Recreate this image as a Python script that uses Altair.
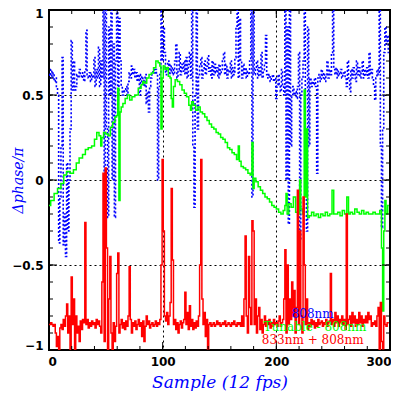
import altair as alt
import pandas as pd

# ---------------- data ----------------
blue_x = list(range(0, 300))
blue_y = [0.62, 0.6, 0.65, 0.6, 0.63, 0.58, 0.6, 0.55, 0.5, -0.37,
          -0.1, 0.2, 0.72, -0.38, -0.2, -0.45, 0.1, -0.3, 0.0, 0.3,
          0.82, 0.53, 0.7, 0.53, 0.55, 0.62, 0.6, 0.65, 0.62, 0.6,
          0.63, 0.58, 0.65, 0.88, 0.62, 0.6, 0.63, 0.58, 0.62, 0.6,
          0.72, 0.55, 0.65, 0.6, 0.78, 0.55, 0.7, 0.6, 1.0, -0.1,
          1.0, 0.3, -0.22, 0.9, 0.5, 1.0, 0.0, 0.8, -0.22, 0.7,
          1.0, 0.5, 0.95, 0.7, 0.55, 0.5, 0.53, 0.52, 0.55, 0.5,
          0.58, 0.63, 0.6, 0.67, 0.62, 0.65, 0.6, 0.63, 0.58, 0.62,
          0.5, 0.62, 0.57, 0.6, 0.55, 0.62, 0.45, 0.52, 0.4, 0.55,
          0.6, 0.62, 0.65, 0.63, 0.65, 0.62, 0.0, 0.55, 0.62, 1.0,
          0.7, 0.9, 0.75, 0.62, 0.65, 0.7, 0.62, 0.68, 0.63, 0.66,
          0.62, 0.7, 0.8, 0.6, 0.65, 0.75, 0.62, 0.68, 0.64, 0.7,
          0.62, 0.72, 0.6, 0.68, 0.75, 0.6, 1.0, 0.2, -0.16, 0.5,
          1.0, 0.3, 0.62, 0.68, 0.72, 0.6, 0.65, 0.7, 0.62, 0.67,
          0.73, 0.64, 0.66, 0.6, 0.7, 0.62, 0.68, 0.63, 0.66, 0.6,
          0.68, 0.62, 0.65, 0.7, 0.75, 0.62, 0.68, 0.6, 0.65, 0.63,
          0.7, 0.6, 0.66, 0.62, 0.72, 0.9, 1.0, 0.6, 0.95, 0.7,
          0.6, 0.68, 0.62, 0.66, 0.6, 0.64, 0.62, 0.7, 1.0, -0.1,
          1.0, 0.62, 0.65, 0.7, 0.6, 0.66, 0.62, 0.75, 0.6, 0.64,
          0.68, 0.85, 0.62, 0.6, 0.62, 0.58, 0.6, 0.62, 0.58, 0.6,
          0.48, 0.55, 0.62, 0.56, 0.52, 0.65, 0.55, 0.5, 1.0, 0.0,
          0.9, -0.26, 1.0, 0.2, 0.5, 0.55, 0.5, 0.52, 0.48, 0.55,
          0.75, -0.36, 0.5, 0.6, 0.7, 1.0, 0.3, -0.3, 0.9, 0.2,
          0.6, 0.55, 0.58, 0.56, 0.6, 0.55, 0.04, 0.6, 0.62, 0.58,
          0.65, 0.6, 0.63, 0.58, 0.62, 0.7, 0.6, 0.65, 0.62, 0.75,
          1.0, 0.65, 0.62, 0.66, 0.6, 0.64, 0.62, 0.65, 0.6, 0.62,
          0.64, 0.6, 0.55, 0.7, 0.6, 0.52, 0.65, 0.6, 0.66, 0.62,
          0.58, 0.7, 0.62, 0.66, 0.6, 0.64, 0.7, 0.6, 0.65, 0.62,
          0.66, 0.6, 0.75, 0.62, 0.65, 0.6, 0.55, 0.47, 0.6, 0.65,
          0.62, 1.0, 0.2, -0.28, 0.3, 0.75, 0.9, 0.8, 0.85, 0.75]

green_x = [0, 3, 6, 9, 12, 14, 17, 20, 23, 25, 28, 31, 33, 36, 39, 41, 43, 45, 46, 47,
           49, 51, 53, 55, 57, 59, 60, 61, 62, 63, 64, 66, 68, 70, 72, 74, 77, 80, 82, 83,
           85, 87, 89, 91, 93, 95, 97, 98, 99, 100, 101, 103, 104, 106, 107, 108, 109, 110, 112, 114,
           116, 118, 120, 122, 124, 125, 126, 128, 130, 132, 134, 136, 138, 140, 142, 144, 146, 148, 150, 152,
           154, 156, 158, 160, 162, 164, 166, 167, 168, 170, 172, 174, 176, 178, 179, 180, 181, 183, 185, 187,
           189, 191, 193, 195, 197, 199, 201, 203, 205, 207, 208, 209, 210, 212, 214, 216, 218, 220, 221, 222,
           224, 225, 226, 227, 228, 230, 232, 234, 236, 238, 240, 242, 244, 246, 248, 250, 251, 253, 255, 257,
           259, 261, 263, 264, 266, 268, 270, 272, 274, 276, 278, 280, 282, 284, 286, 288, 290, 292, 293, 294,
           295, 296, 297, 299]
green_y = [-0.15, -0.12, -0.08, -0.05, -0.02, 0.03, 0.05, 0.04, 0.06, 0.1, 0.13, 0.15, 0.18, 0.19, 0.2, 0.24, 0.28, 0.26, 0.2, 0.25,
           0.28, 0.27, 0.26, 0.31, 0.34, 0.37, 0.38, 0.54, -0.12, 0.4, 0.43, 0.45, 0.48, 0.5, 0.47, 0.49, 0.5, 0.54, 0.56, 0.58,
           0.57, 0.6, 0.62, 0.63, 0.66, 0.7, 0.69, 0.67, 0.3, 0.6, 0.67, 0.65, 0.66, 0.61, 0.6, 0.48, 0.43, 0.55, 0.59, 0.58,
           0.56, 0.53, 0.51, 0.49, 0.44, 0.41, 0.46, 0.44, 0.41, 0.43, 0.4, 0.39, 0.37, 0.35, 0.33, 0.31, 0.3, 0.28, 0.27, 0.25,
           0.24, 0.22, 0.19, 0.18, 0.16, 0.15, 0.12, 0.2, 0.11, 0.08, 0.07, 0.06, 0.04, 0.03, 0.22, -0.05, 0.01, -0.01, -0.04, -0.06,
           -0.08, -0.1, -0.11, -0.13, -0.15, -0.16, -0.17, -0.19, -0.2, -0.18, -0.15, -0.08, -0.2, -0.14, -0.16, -0.1, -0.19, -0.2, 0.0, -0.17,
           -0.2, 0.53, -0.1, 0.3, -0.22, -0.21, -0.19, -0.21, -0.2, -0.22, -0.2, -0.21, -0.19, -0.21, -0.2, -0.06, -0.2, -0.2, -0.19, -0.21,
           -0.18, -0.2, -0.1, -0.2, -0.19, -0.2, -0.17, -0.19, -0.2, -0.18, -0.2, -0.19, -0.2, -0.2, -0.19, -0.2, -0.2, -0.18, -0.4, -0.77,
           -0.3, -0.12, -0.2, -0.15]

red_x = list(range(0, 300))
red_y = [-0.85, -0.85, -0.84, -0.85, -0.86, -0.85, -0.9, -0.98, -0.92, -1.0,
         -0.87, -0.85, -0.88, -0.82, -0.86, -0.8, -0.73, -0.9, -0.8, -1.0,
         -0.57, -0.85, -0.7, -1.0, -0.8, -0.9, -0.86, -0.95, -0.83, -0.88,
         -0.82, -0.84, -0.25, -0.85, -0.82, -0.87, -0.84, -0.86, -0.83, -0.85,
         -0.84, -0.87, -0.82, -0.85, -0.83, -0.86, -0.9, -0.6, 0.04, -0.95,
         0.07, -0.4, -1.0, -0.7, -0.45, -0.9, -1.0, -0.84, -0.95, -0.86,
         -0.55, -0.43, -0.9, -0.85, -0.82, -0.87, -0.84, -0.88, -0.83, -0.86,
         -0.8, -0.51, -0.82, -0.9, -0.84, -0.86, -0.83, -0.88, -0.85, -0.82,
         -0.86, -0.84, -0.92, -0.83, -0.95, -0.86, -0.8, -0.85, -0.83, -0.87,
         -0.85, -0.84, -0.86, -0.85, -0.83, -0.86, -0.84, -0.85, -0.82, -0.5,
         0.12, -0.3, -0.8, -0.83, -0.78, -0.85, -0.8, -0.72, -0.05, -0.47,
         -0.85, -0.82, -0.88, -0.84, -0.9, -0.85, -0.83, -0.87, -0.84, -0.82,
         -0.66, -0.85, -0.78, -0.88, -0.74, -0.86, -0.82, -0.88, -0.84, -0.87,
         -0.83, -0.86, -0.8, -0.5, 0.12, -0.7, -0.85, -0.78, -0.92, -0.82,
         -1.0, -0.85, -0.84, -0.86, -0.85, -0.84, -0.86, -0.85, -0.83, -0.85,
         -0.84, -0.86, -0.85, -0.84, -0.85, -0.83, -0.86, -0.85, -0.84, -0.85,
         -0.86, -0.84, -0.85, -0.83, -0.85, -0.86, -0.84, -0.85, -0.84, -0.86,
         -0.8, -0.86, -0.7, -0.33, -0.8, -0.9, -0.45, -0.75, -0.85, -0.24,
         -0.3, -0.85, -0.7, -0.9, -0.8, -0.75, -0.88, -0.82, -0.9, -0.85,
         -0.8, -0.86, -0.83, -0.85, -0.82, -0.87, -0.84, -0.86, -0.82, -0.85,
         -0.84, -0.86, -0.83, -0.8, -0.86, -0.84, -0.82, -0.7, -0.41, -0.9,
         -0.5, -0.85, -0.7, -0.82, -0.6, -0.8, -0.65, -0.9, -0.75, -0.06,
         -0.85, -0.3, -0.8, -0.9, -0.1, -0.5, -0.85, -0.7, -0.88, -0.84,
         -0.86, -0.82, -0.85, -0.83, -0.87, -0.84, -0.86, -0.82, -0.85, -0.84,
         -0.83, -0.86, -0.84, -0.85, -0.82, -0.86, -0.84, -0.83, -0.55, -0.85,
         -0.82, -0.86, -0.78, -0.84, -0.8, -0.86, -0.82, -0.84, -0.8, -0.85,
         -0.82, -0.88, -0.2, -0.85, -0.82, -0.8, -0.86, -0.78, -0.84, -0.8,
         -0.86, -0.82, -0.85, -0.78, -0.84, -0.8, -0.86, -0.82, -0.84, -0.8,
         -0.84, -0.78, -0.82, -0.8, -0.86, -0.84, -0.85, -0.83, -0.86, -0.8,
         -0.75, -1.0, -0.72, -0.95, -1.0, -0.8, -0.85, -0.86, -0.84, -0.84]

x_major = [0, 100, 200, 300]
x_minor = list(range(0, 301, 20))
y_major = [-1, -0.5, 0, 0.5, 1]
y_minor = [round(-1 + 0.1 * i, 1) for i in range(21)]

legend_text = ["808nm", "Tunable - 808nm", "833nm + 808nm"]
legend_color = ["#0000ff", "#00ff00", "#ff0000"]
legend_x = [232, 234, 232]
legend_y = [-0.788, -0.865, -0.941]

W, H = 341, 340

xaxis = alt.Axis(values=x_major, grid=True, gridColor="black", gridDash=[2, 3], gridWidth=1,
                 ticks=False, domain=False, labelFont="DejaVu Sans", labelFontWeight="bold",
                 labelFontSize=12, labelColor="black", labelPadding=6,
                 labelFlush=True, labelFlushOffset=1,
                 title="Sample (12 fps)", titleFont="DejaVu Serif", titleFontStyle="italic",
                 titleFontWeight="normal", titleFontSize=17, titleColor="#0000ff", titlePadding=7)
yaxis = alt.Axis(values=y_major, grid=True, gridColor="black", gridDash=[2, 3], gridWidth=1,
                 ticks=False, domain=False, labelFont="DejaVu Sans", labelFontWeight="bold",
                 labelFontSize=12, labelColor="black", labelPadding=6, format="~g",
                 labelFlush=True, labelFlushOffset=2,
                 title="Δphase/π", titleFont="DejaVu Serif", titleFontStyle="italic",
                 titleFontWeight="normal", titleFontSize=14, titleColor="#0000ff",
                 titleX=-31, titleY=H / 2, titleAlign="center", titleBaseline="middle", titleAngle=270)

X = alt.X("x:Q", scale=alt.Scale(domain=[0, 300], nice=False, zero=False), axis=xaxis)
Y = alt.Y("y:Q", scale=alt.Scale(domain=[-1, 1], nice=False, zero=False), axis=yaxis)

blue = alt.Chart(pd.DataFrame({"x": blue_x, "y": blue_y})).mark_line(
    color="#0000ff", strokeWidth=1.6, strokeDash=[2, 2], interpolate="step", clip=True
).encode(x=X, y=Y)
green = alt.Chart(pd.DataFrame({"x": green_x, "y": green_y})).mark_line(
    color="#00ff00", strokeWidth=1.5, interpolate="step", clip=True
).encode(x=X, y=Y)
red = alt.Chart(pd.DataFrame({"x": red_x, "y": red_y})).mark_line(
    color="#ff0000", strokeWidth=1.5, interpolate="step", clip=True
).encode(x=X, y=Y)

def xticks(vals, length):
    d = pd.DataFrame({"x": vals})
    bot = alt.Chart(d).mark_rule(color="black", strokeWidth=1).encode(
        x=X, y=alt.value(H), y2=alt.value(H - length))
    top = alt.Chart(d).mark_rule(color="black", strokeWidth=1).encode(
        x=X, y=alt.value(0), y2=alt.value(length))
    return [bot, top]

def yticks(vals, length):
    d = pd.DataFrame({"y": vals})
    lft = alt.Chart(d).mark_rule(color="black", strokeWidth=1).encode(
        y=Y, x=alt.value(0), x2=alt.value(length))
    rgt = alt.Chart(d).mark_rule(color="black", strokeWidth=1).encode(
        y=Y, x=alt.value(W), x2=alt.value(W - length))
    return [lft, rgt]

legend = alt.Chart(pd.DataFrame({"x": legend_x, "y": legend_y, "t": legend_text, "c": legend_color})).mark_text(
    font="DejaVu Serif", fontSize=12, align="center", baseline="middle"
).encode(x=X, y=Y, text="t:N", color=alt.Color("c:N", scale=None))

layers = [blue, green, red] + xticks(x_minor, 4) + xticks(x_major, 8) + yticks(y_minor, 4) + yticks(y_major, 8) + [legend]

chart = alt.layer(*layers).properties(
    width=W, height=H,
    autosize=alt.AutoSizeParams(type="none"),
    padding={"left": 41, "top": 2, "right": 1, "bottom": 41},
    background="white",
).configure_view(stroke="black", strokeWidth=2)

chart.save("out.html", embed_options={"renderer": "svg", "actions": False})
